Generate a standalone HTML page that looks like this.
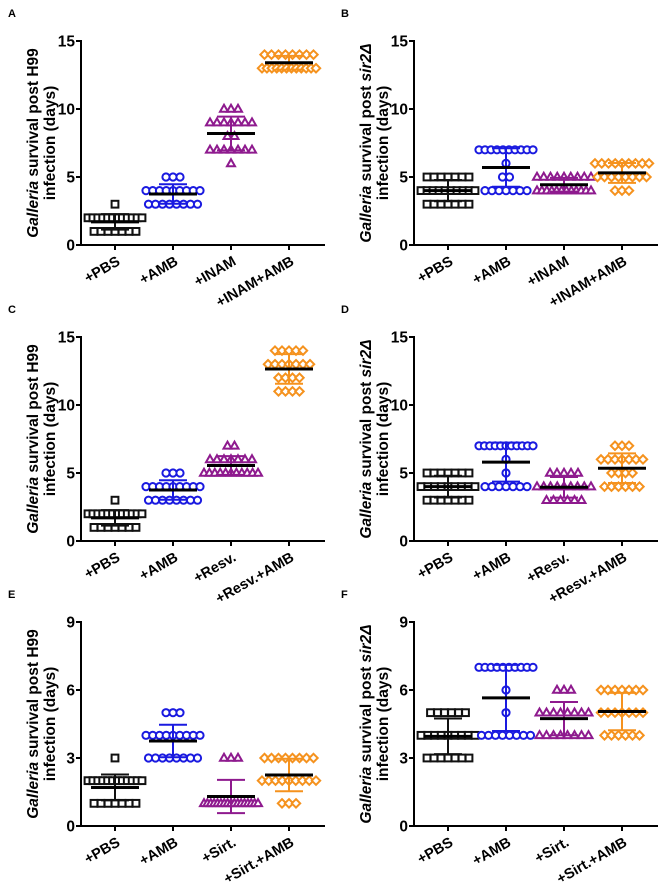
<!DOCTYPE html>
<html><head><meta charset="utf-8">
<style>
html,body{margin:0;padding:0;background:#fff;}
svg{display:block;font-family:"Liberation Sans",Arial,sans-serif;}
</style></head>
<body>
<svg id="fig" width="666" height="892" viewBox="0 0 666 892" xmlns="http://www.w3.org/2000/svg"></svg>
<script>
// ---- data: per panel, per group: observed survival levels (days) and number of larvae at each level ----
const panelLetters = ["A","B","C","D","E","F"];
const panelStrains = ["H99","sir2","H99","sir2","H99","sir2"];
const panelYMax = [15,15,15,15,9,9];
const panelTicks = [[0,5,10,15],[0,5,10,15],[0,5,10,15],[0,5,10,15],[0,3,6,9],[0,3,6,9]];
const catsA = ["+PBS","+AMB","+INAM","+INAM+AMB"];
const catsC = ["+PBS","+AMB","+Resv.","+Resv.+AMB"];
const catsE = ["+PBS","+AMB","+Sirt.","+Sirt.+AMB"];
const panelCats = [catsA,catsA,catsC,catsC,catsE,catsE];

const levelsA = [[1,2,3],[3,4,5],[6,7,8,9,10],[13,14]];
const countsA = [[7,12,1],[8,9,3],[1,7,2,7,3],[12,8]];
const levelsB = [[3,4,5],[4,5,6,7],[4,5],[4,5,6]];
const countsB = [[7,10,7],[7,2,1,10],[12,9],[3,8,9]];
const levelsC = [[1,2,3],[3,4,5],[5,6,7],[11,12,13,14]];
const countsC = [[7,12,1],[8,9,3],[11,7,2],[4,4,7,5]];
const levelsD = [[3,4,5],[4,5,6,7],[3,4,5],[4,5,6,7]];
const countsD = [[7,9,7],[7,1,1,11],[6,9,5],[6,4,7,3]];
const levelsE = [[1,2,3],[3,4,5],[1,3],[1,2,3]];
const countsE = [[7,12,1],[8,9,3],[17,3],[3,9,8]];
const levelsF = [[3,4,5],[4,5,6,7],[4,5,6],[4,5,6]];
const countsF = [[7,9,6],[8,1,1,10],[8,8,3],[6,7,7]];
const panelLevels = [levelsA,levelsB,levelsC,levelsD,levelsE,levelsF];
const panelCounts = [countsA,countsB,countsC,countsD,countsE,countsF];

const groupColors = ["#111111","#1a1ae0","#8e1a8e","#f5921e"];
const groupShapes = ["square","circle","triangle","diamond"];

const NS = "http://www.w3.org/2000/svg";
const svg = document.getElementById("fig");
function mk(tag, attrs, parent){
  const e = document.createElementNS(NS, tag);
  for (const k in attrs) e.setAttribute(k, attrs[k]);
  (parent||svg).appendChild(e);
  return e;
}

panelLetters.forEach((letter, p) => {
  const ox = (p % 2) * 333;
  const oy = [0, 296, 581][Math.floor(p / 2)];
  const yTop = oy + 41, yBot = oy + 245, xL = ox + 81, xR = ox + 325;
  const ymax = panelYMax[p];
  const yScale = v => yBot - (v / ymax) * (yBot - yTop);
  const xScale = i => ox + 115 + i * 58;

  const g = mk("g", {});
  
  

  const lt = mk("text", {x: ox + 8, y: oy + 17, "font-size": 11, "font-weight": "bold", fill: "#000"}, g);
  lt.textContent = letter;
  
  

  const ya = mk("line", {x1: xL, y1: yTop - 1, x2: xL, y2: yBot + 1, stroke: "#000", "stroke-width": 2}, g);
  
  
  const xa = mk("line", {x1: xL - 1, y1: yBot, x2: xR, y2: yBot, stroke: "#000", "stroke-width": 2}, g);
  
  

  panelTicks[p].forEach(t => {
    const y = yScale(t);
    const tk = mk("line", {x1: xL - 5, y1: y, x2: xL, y2: y, stroke: "#000", "stroke-width": 2}, g);
    
    
    const tl = mk("text", {x: xL - 6, y: y + 5.5, "font-size": 15.5, "font-weight": "bold", "text-anchor": "end", fill: "#000"}, g);
    tl.textContent = t;
    
    
  });

  const cy = (yTop + yBot) / 2;
  const t1 = mk("text", {x: ox + 38, y: cy, "font-size": 15.5, "font-weight": "bold", "text-anchor": "middle", transform: `rotate(-90 ${ox + 38} ${cy})`}, g);
  
  
  const ti = mk("tspan", {"font-style": "italic"}, t1); ti.textContent = "Galleria";
  const tr = mk("tspan", {}, t1); tr.textContent = " survival post ";
  if (panelStrains[p] === "H99") { tr.textContent += "H99"; }
  else { const ts = mk("tspan", {"font-style": "italic"}, t1); ts.textContent = "sir2Δ"; }
  const t2 = mk("text", {x: ox + 55, y: cy, "font-size": 15.5, "font-weight": "bold", "text-anchor": "middle", transform: `rotate(-90 ${ox + 55} ${cy})`}, g);
  t2.textContent = "infection (days)";
  
  

  panelCats[p].forEach((cat, i) => {
    const cx = xScale(i);
    const tk = mk("line", {x1: cx, y1: yBot, x2: cx, y2: yBot + 5, stroke: "#000", "stroke-width": 2}, g);
    
    
    const ax = cx + 6, ay = oy + 264;
    const cl = mk("text", {x: ax, y: ay, "font-size": 14.5, "font-weight": "bold", "text-anchor": "end", transform: `rotate(-30 ${ax} ${ay})`}, g);
    cl.textContent = cat;
    
    

    const levels = panelLevels[p][i], counts = panelCounts[p][i];
    const col = groupColors[i], shape = groupShapes[i];
    const gg = mk("g", {}, g);
    
    
    let vals = [];
    levels.forEach((v, k) => {
      const n = counts[k];
      const sp = n > 1 ? Math.min(7, 54 / (n - 1)) : 0;
      const y = yScale(v);
      for (let j = 0; j < n; j++) {
        vals.push(v);
        const x = cx + (j - (n - 1) / 2) * sp;
        let m;
        const st = {fill: "#fff", stroke: col, "stroke-width": 2};
        if (shape === "square") m = mk("rect", Object.assign({x: x - 3.4, y: y - 3.4, width: 6.8, height: 6.8}, st), gg);
        else if (shape === "circle") m = mk("circle", Object.assign({cx: x, cy: y, r: 3.6}, st), gg);
        else if (shape === "triangle") m = mk("polygon", Object.assign({points: `${x},${y-4.2} ${x+4},${y+2.8} ${x-4},${y+2.8}`}, st), gg);
        else m = mk("polygon", Object.assign({points: `${x},${y-4.2} ${x+4.2},${y} ${x},${y+4.2} ${x-4.2},${y}`}, st), gg);
        
        
      }
    });
    const mean = vals.reduce((a, b) => a + b, 0) / vals.length;
    const sd = Math.sqrt(vals.reduce((a, b) => a + (b - mean) * (b - mean), 0) / (vals.length - 1));
    const eb = mk("path", {d: `M${cx},${yScale(mean - sd)}V${yScale(mean + sd)}M${cx-14},${yScale(mean + sd)}H${cx+14}M${cx-14},${yScale(mean - sd)}H${cx+14}`, stroke: col, "stroke-width": 2, fill: "none"}, gg);
    
    
    const ml = mk("line", {x1: cx - 24, y1: yScale(mean), x2: cx + 24, y2: yScale(mean), stroke: "#000", "stroke-width": 3}, gg);
    
    
  });
});
</script>
</body></html>
